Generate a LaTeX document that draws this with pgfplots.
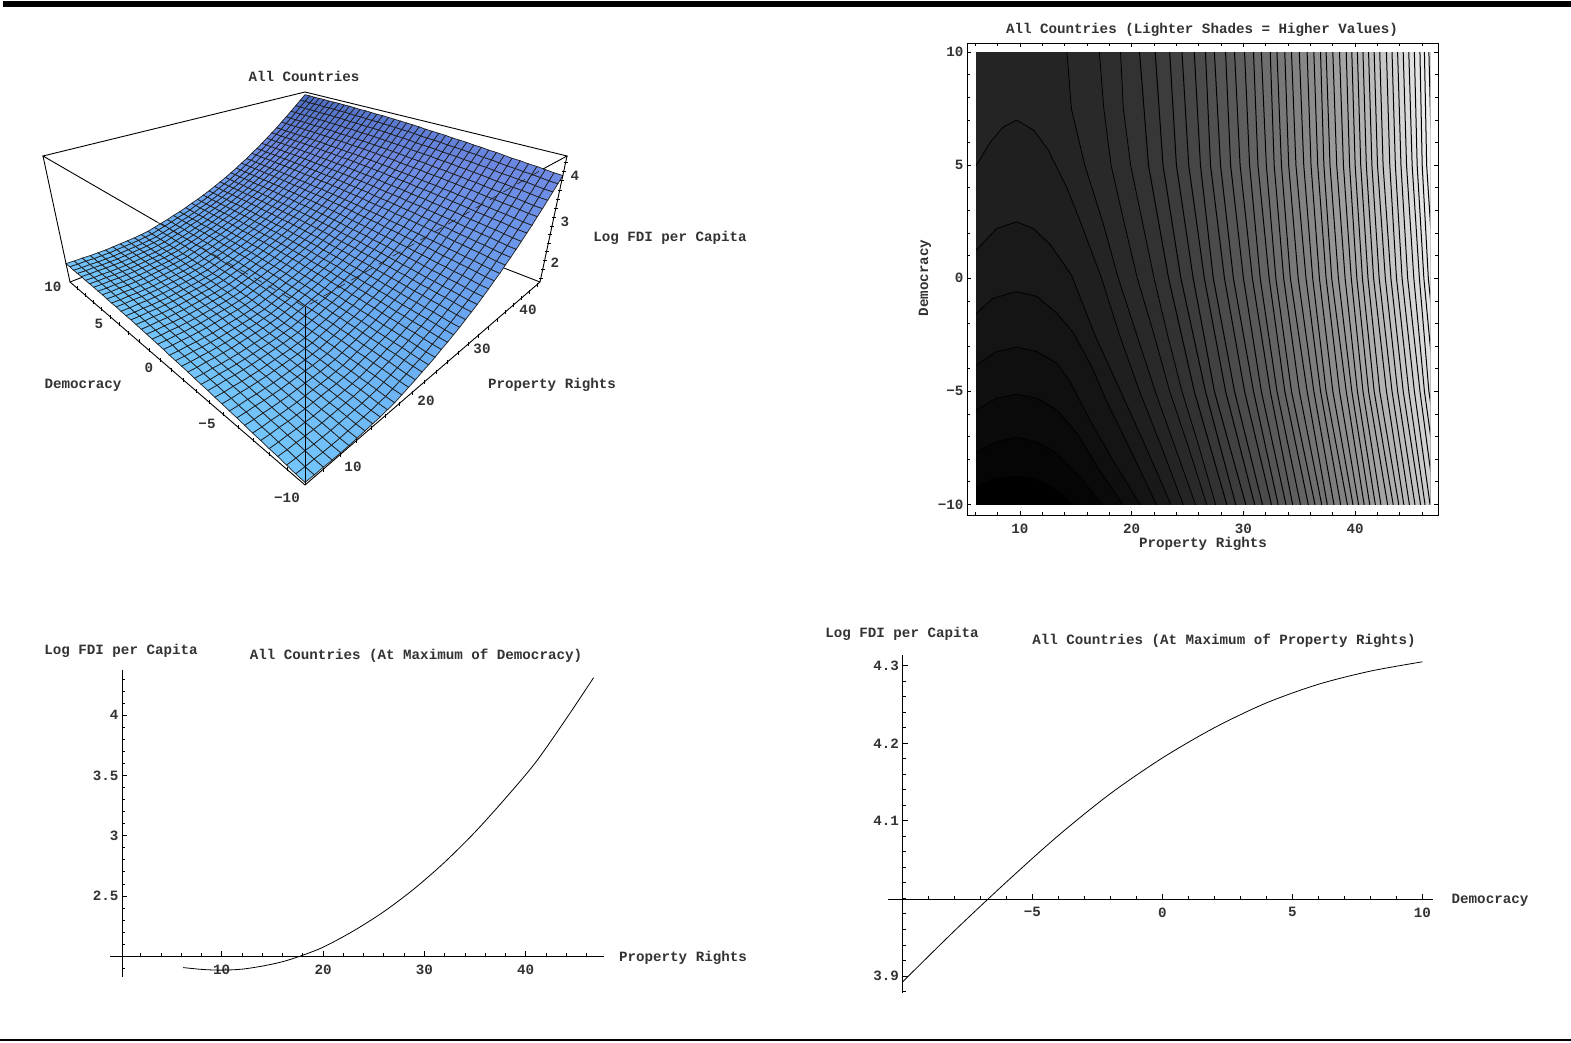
\documentclass[border=0pt]{standalone}
\usepackage{fontspec}
\usepackage{pgfplots}
\pgfplotsset{compat=1.18}
\setmainfont{Liberation Mono}
\newcommand\mf{\fontsize{14.2}{16}\selectfont\bfseries}
\definecolor{tx}{gray}{0.2}
\newcommand\C[6]{\addplot[fill=black!#1,draw=black,line width=1pt] coordinates {(#2,11)(#2,10)(#3,5)(#4,0)(#5,-5)(#6,-10)(#6,-11)(60,-11)(60,11)} --cycle;}
\pgfplotsset{
  common/.style={scale only axis,clip=false,/pgf/number format/assume math mode=true,
    tick label style={font=\mf,text=tx},xticklabel style={yshift=-5pt},axis line style={-,line width=.9pt,black},
    tick style={black,line width=.8pt},major tick length=5pt,minor tick length=3pt,tick align=inside},
}
\begin{document}
\begin{tikzpicture}
\path[use as bounding box,fill=white] (0,0) rectangle (1571pt,1042pt);
\begin{axis}[at={(0pt,0pt)},anchor=south west,scale only axis,width=1571pt,height=1042pt,
  xmin=0,xmax=1571,ymin=0,ymax=1042,y dir=reverse,hide axis,clip=false,
  nodes={font=\mf,text=tx},
  colormap={fdi}{rgb255(0)=(115,197,250) rgb255(5)=(105,170,242) rgb255(10)=(110,138,228) rgb255(13)=(75,108,195)},
  point meta min=0,point meta max=1.3,
  declare function={vv(\i)=floor((\i+0.5)/41)/40; uu(\i)=(\i-41*floor((\i+0.5)/41))/40; ww(\z)=(\z-1.45)/2.85; dd(\i,\z)=1+0.612*(uu(\i)+vv(\i))-0.166*ww(\z);}]
\addplot[black,line width=6pt] coordinates {(3,4)(1571,4)};
\addplot[black,line width=2.5pt] coordinates {(0,1040)(1571,1040)};
\addplot[black,line width=.9pt] coordinates {(70,282)(305,191)(540,282)};
\addplot[surf,shader=faceted,faceted color=black!88,line width=.7pt,mesh/cols=41,mesh/ordering=x varies,
  point meta={uu(\coordindex)+0.3*uu(\coordindex)*vv(\coordindex)}]
 table[row sep=crcr,header=false,
  x expr={305+379*(uu(\coordindex)-vv(\coordindex))/dd(\coordindex,\thisrowno{0})},
  y expr={485-(327*(uu(\coordindex)+vv(\coordindex))+148.5*ww(\thisrowno{0}))/dd(\coordindex,\thisrowno{0})}] {
1.50\\1.49\\1.49\\1.48\\1.48\\1.48\\1.49\\1.50\\1.51\\1.52\\1.54\\1.56\\1.60\\1.64\\1.68\\1.73\\1.77\\1.82\\1.88\\1.93\\1.99\\2.05\\2.12\\2.19\\2.26\\2.34\\2.42\\2.51\\2.59\\2.69\\2.78\\2.88\\2.98\\3.09\\3.19\\3.31\\3.42\\3.54\\3.66\\3.78\\3.90\\
1.51\\1.50\\1.50\\1.49\\1.49\\1.49\\1.50\\1.51\\1.52\\1.53\\1.55\\1.57\\1.61\\1.65\\1.69\\1.74\\1.78\\1.83\\1.89\\1.94\\2.00\\2.06\\2.13\\2.20\\2.27\\2.35\\2.43\\2.52\\2.60\\2.70\\2.79\\2.89\\2.99\\3.10\\3.20\\3.32\\3.43\\3.55\\3.67\\3.79\\3.91\\
1.53\\1.52\\1.52\\1.51\\1.51\\1.51\\1.52\\1.53\\1.54\\1.55\\1.57\\1.59\\1.63\\1.67\\1.71\\1.76\\1.80\\1.85\\1.91\\1.96\\2.02\\2.08\\2.15\\2.22\\2.29\\2.37\\2.45\\2.54\\2.62\\2.72\\2.81\\2.91\\3.01\\3.12\\3.22\\3.34\\3.45\\3.57\\3.69\\3.81\\3.93\\
1.55\\1.54\\1.54\\1.53\\1.53\\1.53\\1.54\\1.55\\1.56\\1.57\\1.59\\1.61\\1.65\\1.69\\1.73\\1.78\\1.82\\1.87\\1.93\\1.98\\2.04\\2.10\\2.17\\2.24\\2.31\\2.39\\2.47\\2.56\\2.64\\2.74\\2.83\\2.93\\3.03\\3.14\\3.24\\3.36\\3.47\\3.59\\3.71\\3.83\\3.95\\
1.56\\1.55\\1.55\\1.54\\1.54\\1.54\\1.55\\1.56\\1.57\\1.58\\1.60\\1.62\\1.66\\1.70\\1.74\\1.79\\1.83\\1.88\\1.94\\1.99\\2.05\\2.11\\2.18\\2.25\\2.32\\2.40\\2.48\\2.57\\2.65\\2.75\\2.84\\2.94\\3.04\\3.15\\3.25\\3.37\\3.48\\3.60\\3.72\\3.84\\3.96\\
1.58\\1.57\\1.57\\1.56\\1.56\\1.56\\1.57\\1.58\\1.59\\1.60\\1.62\\1.64\\1.68\\1.72\\1.76\\1.81\\1.85\\1.90\\1.96\\2.01\\2.07\\2.13\\2.20\\2.27\\2.34\\2.42\\2.50\\2.59\\2.67\\2.77\\2.86\\2.96\\3.06\\3.17\\3.27\\3.39\\3.50\\3.62\\3.74\\3.86\\3.98\\
1.59\\1.58\\1.58\\1.57\\1.57\\1.57\\1.58\\1.59\\1.60\\1.61\\1.63\\1.65\\1.69\\1.73\\1.77\\1.82\\1.86\\1.91\\1.97\\2.02\\2.08\\2.14\\2.21\\2.28\\2.35\\2.43\\2.51\\2.60\\2.68\\2.78\\2.87\\2.97\\3.07\\3.18\\3.28\\3.40\\3.51\\3.63\\3.75\\3.87\\3.99\\
1.61\\1.60\\1.60\\1.59\\1.59\\1.59\\1.60\\1.61\\1.62\\1.63\\1.65\\1.67\\1.71\\1.75\\1.79\\1.84\\1.88\\1.93\\1.99\\2.04\\2.10\\2.16\\2.23\\2.30\\2.37\\2.45\\2.53\\2.62\\2.70\\2.80\\2.89\\2.99\\3.09\\3.20\\3.30\\3.42\\3.53\\3.65\\3.77\\3.89\\4.01\\
1.63\\1.62\\1.62\\1.61\\1.61\\1.61\\1.62\\1.63\\1.64\\1.65\\1.67\\1.69\\1.73\\1.77\\1.81\\1.86\\1.90\\1.95\\2.01\\2.06\\2.12\\2.18\\2.25\\2.32\\2.39\\2.47\\2.55\\2.64\\2.72\\2.82\\2.91\\3.01\\3.11\\3.22\\3.32\\3.44\\3.55\\3.67\\3.79\\3.91\\4.03\\
1.64\\1.63\\1.63\\1.62\\1.62\\1.62\\1.63\\1.64\\1.65\\1.66\\1.68\\1.70\\1.74\\1.78\\1.82\\1.87\\1.91\\1.96\\2.02\\2.07\\2.13\\2.19\\2.26\\2.33\\2.40\\2.48\\2.56\\2.65\\2.73\\2.83\\2.92\\3.02\\3.12\\3.23\\3.33\\3.45\\3.56\\3.68\\3.80\\3.92\\4.04\\
1.66\\1.65\\1.65\\1.64\\1.64\\1.64\\1.65\\1.66\\1.67\\1.68\\1.70\\1.72\\1.76\\1.80\\1.84\\1.89\\1.93\\1.98\\2.04\\2.09\\2.15\\2.21\\2.28\\2.35\\2.42\\2.50\\2.58\\2.67\\2.75\\2.85\\2.94\\3.04\\3.14\\3.25\\3.35\\3.47\\3.58\\3.70\\3.82\\3.94\\4.06\\
1.67\\1.66\\1.66\\1.65\\1.65\\1.65\\1.66\\1.67\\1.68\\1.69\\1.71\\1.73\\1.77\\1.81\\1.85\\1.90\\1.94\\1.99\\2.05\\2.10\\2.16\\2.22\\2.29\\2.36\\2.43\\2.51\\2.59\\2.68\\2.76\\2.86\\2.95\\3.05\\3.15\\3.26\\3.36\\3.48\\3.59\\3.71\\3.83\\3.95\\4.07\\
1.69\\1.68\\1.68\\1.67\\1.67\\1.67\\1.68\\1.69\\1.70\\1.71\\1.73\\1.75\\1.79\\1.83\\1.87\\1.92\\1.96\\2.01\\2.07\\2.12\\2.18\\2.24\\2.31\\2.38\\2.45\\2.53\\2.61\\2.70\\2.78\\2.88\\2.97\\3.07\\3.17\\3.28\\3.38\\3.50\\3.61\\3.73\\3.85\\3.97\\4.09\\
1.70\\1.69\\1.69\\1.68\\1.68\\1.68\\1.69\\1.70\\1.71\\1.72\\1.74\\1.76\\1.80\\1.84\\1.88\\1.93\\1.97\\2.02\\2.08\\2.13\\2.19\\2.25\\2.32\\2.39\\2.46\\2.54\\2.62\\2.71\\2.79\\2.89\\2.98\\3.08\\3.18\\3.29\\3.39\\3.51\\3.62\\3.74\\3.86\\3.98\\4.10\\
1.71\\1.70\\1.70\\1.69\\1.69\\1.69\\1.70\\1.71\\1.72\\1.73\\1.75\\1.77\\1.81\\1.85\\1.89\\1.94\\1.98\\2.03\\2.09\\2.14\\2.20\\2.26\\2.33\\2.40\\2.47\\2.55\\2.63\\2.72\\2.80\\2.90\\2.99\\3.09\\3.19\\3.30\\3.40\\3.52\\3.63\\3.75\\3.87\\3.99\\4.11\\
1.73\\1.72\\1.72\\1.71\\1.71\\1.71\\1.72\\1.73\\1.74\\1.75\\1.77\\1.79\\1.83\\1.87\\1.91\\1.96\\2.00\\2.05\\2.11\\2.16\\2.22\\2.28\\2.35\\2.42\\2.49\\2.57\\2.65\\2.74\\2.82\\2.92\\3.01\\3.11\\3.21\\3.32\\3.42\\3.54\\3.65\\3.77\\3.89\\4.01\\4.13\\
1.74\\1.73\\1.73\\1.72\\1.72\\1.72\\1.73\\1.74\\1.75\\1.76\\1.78\\1.80\\1.84\\1.88\\1.92\\1.97\\2.01\\2.06\\2.12\\2.17\\2.23\\2.29\\2.36\\2.43\\2.50\\2.58\\2.66\\2.75\\2.83\\2.93\\3.02\\3.12\\3.22\\3.33\\3.43\\3.55\\3.66\\3.78\\3.90\\4.02\\4.14\\
1.75\\1.74\\1.74\\1.73\\1.73\\1.73\\1.74\\1.75\\1.76\\1.77\\1.79\\1.81\\1.85\\1.89\\1.93\\1.98\\2.02\\2.07\\2.13\\2.18\\2.24\\2.30\\2.37\\2.44\\2.51\\2.59\\2.67\\2.76\\2.84\\2.94\\3.03\\3.13\\3.23\\3.34\\3.44\\3.56\\3.67\\3.79\\3.91\\4.03\\4.15\\
1.76\\1.75\\1.75\\1.74\\1.74\\1.74\\1.75\\1.76\\1.77\\1.78\\1.80\\1.82\\1.86\\1.90\\1.94\\1.99\\2.03\\2.08\\2.14\\2.19\\2.25\\2.31\\2.38\\2.45\\2.52\\2.60\\2.68\\2.77\\2.85\\2.95\\3.04\\3.14\\3.24\\3.35\\3.45\\3.57\\3.68\\3.80\\3.92\\4.04\\4.16\\
1.78\\1.77\\1.77\\1.76\\1.76\\1.76\\1.77\\1.78\\1.79\\1.80\\1.82\\1.84\\1.88\\1.92\\1.96\\2.01\\2.05\\2.10\\2.16\\2.21\\2.27\\2.33\\2.40\\2.47\\2.54\\2.62\\2.70\\2.79\\2.87\\2.97\\3.06\\3.16\\3.26\\3.37\\3.47\\3.59\\3.70\\3.82\\3.94\\4.06\\4.18\\
1.79\\1.78\\1.78\\1.77\\1.77\\1.77\\1.78\\1.79\\1.80\\1.81\\1.83\\1.85\\1.89\\1.93\\1.97\\2.02\\2.06\\2.11\\2.17\\2.22\\2.28\\2.34\\2.41\\2.48\\2.55\\2.63\\2.71\\2.80\\2.88\\2.98\\3.07\\3.17\\3.27\\3.38\\3.48\\3.60\\3.71\\3.83\\3.95\\4.07\\4.19\\
1.80\\1.79\\1.79\\1.78\\1.78\\1.78\\1.79\\1.80\\1.81\\1.82\\1.84\\1.86\\1.90\\1.94\\1.98\\2.03\\2.07\\2.12\\2.18\\2.23\\2.29\\2.35\\2.42\\2.49\\2.56\\2.64\\2.72\\2.81\\2.89\\2.99\\3.08\\3.18\\3.28\\3.39\\3.49\\3.61\\3.72\\3.84\\3.96\\4.08\\4.20\\
1.81\\1.80\\1.80\\1.79\\1.79\\1.79\\1.80\\1.81\\1.82\\1.83\\1.85\\1.87\\1.91\\1.95\\1.99\\2.04\\2.08\\2.13\\2.19\\2.24\\2.30\\2.36\\2.43\\2.50\\2.57\\2.65\\2.73\\2.82\\2.90\\3.00\\3.09\\3.19\\3.29\\3.40\\3.50\\3.62\\3.73\\3.85\\3.97\\4.09\\4.21\\
1.82\\1.81\\1.81\\1.80\\1.80\\1.80\\1.81\\1.82\\1.83\\1.84\\1.86\\1.88\\1.92\\1.96\\2.00\\2.05\\2.09\\2.14\\2.20\\2.25\\2.31\\2.37\\2.44\\2.51\\2.58\\2.66\\2.74\\2.83\\2.91\\3.01\\3.10\\3.20\\3.30\\3.41\\3.51\\3.63\\3.74\\3.86\\3.98\\4.10\\4.22\\
1.83\\1.82\\1.82\\1.81\\1.81\\1.81\\1.82\\1.83\\1.84\\1.85\\1.87\\1.89\\1.93\\1.97\\2.01\\2.06\\2.10\\2.15\\2.21\\2.26\\2.32\\2.38\\2.45\\2.52\\2.59\\2.67\\2.75\\2.84\\2.92\\3.02\\3.11\\3.21\\3.31\\3.42\\3.52\\3.64\\3.75\\3.87\\3.99\\4.11\\4.23\\
1.84\\1.83\\1.83\\1.82\\1.82\\1.82\\1.83\\1.84\\1.85\\1.86\\1.88\\1.90\\1.94\\1.98\\2.02\\2.07\\2.11\\2.16\\2.22\\2.27\\2.33\\2.39\\2.46\\2.53\\2.60\\2.68\\2.76\\2.85\\2.93\\3.03\\3.12\\3.22\\3.32\\3.43\\3.53\\3.65\\3.76\\3.88\\4.00\\4.12\\4.24\\
1.84\\1.83\\1.83\\1.82\\1.82\\1.82\\1.83\\1.84\\1.85\\1.86\\1.88\\1.90\\1.94\\1.98\\2.02\\2.07\\2.11\\2.16\\2.22\\2.27\\2.33\\2.39\\2.46\\2.53\\2.60\\2.68\\2.76\\2.85\\2.93\\3.03\\3.12\\3.22\\3.32\\3.43\\3.53\\3.65\\3.76\\3.88\\4.00\\4.12\\4.24\\
1.85\\1.84\\1.84\\1.83\\1.83\\1.83\\1.84\\1.85\\1.86\\1.87\\1.89\\1.91\\1.95\\1.99\\2.03\\2.08\\2.12\\2.17\\2.23\\2.28\\2.34\\2.40\\2.47\\2.54\\2.61\\2.69\\2.77\\2.86\\2.94\\3.04\\3.13\\3.23\\3.33\\3.44\\3.54\\3.66\\3.77\\3.89\\4.01\\4.13\\4.25\\
1.86\\1.85\\1.85\\1.84\\1.84\\1.84\\1.85\\1.86\\1.87\\1.88\\1.90\\1.92\\1.96\\2.00\\2.04\\2.09\\2.13\\2.18\\2.24\\2.29\\2.35\\2.41\\2.48\\2.55\\2.62\\2.70\\2.78\\2.87\\2.95\\3.05\\3.14\\3.24\\3.34\\3.45\\3.55\\3.67\\3.78\\3.90\\4.02\\4.14\\4.26\\
1.86\\1.85\\1.85\\1.84\\1.84\\1.84\\1.85\\1.86\\1.87\\1.88\\1.90\\1.92\\1.96\\2.00\\2.04\\2.09\\2.13\\2.18\\2.24\\2.29\\2.35\\2.41\\2.48\\2.55\\2.62\\2.70\\2.78\\2.87\\2.95\\3.05\\3.14\\3.24\\3.34\\3.45\\3.55\\3.67\\3.78\\3.90\\4.02\\4.14\\4.26\\
1.87\\1.86\\1.86\\1.85\\1.85\\1.85\\1.86\\1.87\\1.88\\1.89\\1.91\\1.93\\1.97\\2.01\\2.05\\2.10\\2.14\\2.19\\2.25\\2.30\\2.36\\2.42\\2.49\\2.56\\2.63\\2.71\\2.79\\2.88\\2.96\\3.06\\3.15\\3.25\\3.35\\3.46\\3.56\\3.68\\3.79\\3.91\\4.03\\4.15\\4.27\\
1.88\\1.87\\1.87\\1.86\\1.86\\1.86\\1.87\\1.88\\1.89\\1.90\\1.92\\1.94\\1.98\\2.02\\2.06\\2.11\\2.15\\2.20\\2.26\\2.31\\2.37\\2.43\\2.50\\2.57\\2.64\\2.72\\2.80\\2.89\\2.97\\3.07\\3.16\\3.26\\3.36\\3.47\\3.57\\3.69\\3.80\\3.92\\4.04\\4.16\\4.28\\
1.88\\1.87\\1.87\\1.86\\1.86\\1.86\\1.87\\1.88\\1.89\\1.90\\1.92\\1.94\\1.98\\2.02\\2.06\\2.11\\2.15\\2.20\\2.26\\2.31\\2.37\\2.43\\2.50\\2.57\\2.64\\2.72\\2.80\\2.89\\2.97\\3.07\\3.16\\3.26\\3.36\\3.47\\3.57\\3.69\\3.80\\3.92\\4.04\\4.16\\4.28\\
1.89\\1.88\\1.88\\1.87\\1.87\\1.87\\1.88\\1.89\\1.90\\1.91\\1.93\\1.95\\1.99\\2.03\\2.07\\2.12\\2.16\\2.21\\2.27\\2.32\\2.38\\2.44\\2.51\\2.58\\2.65\\2.73\\2.81\\2.90\\2.98\\3.08\\3.17\\3.27\\3.37\\3.48\\3.58\\3.70\\3.81\\3.93\\4.05\\4.17\\4.29\\
1.89\\1.88\\1.88\\1.87\\1.87\\1.87\\1.88\\1.89\\1.90\\1.91\\1.93\\1.95\\1.99\\2.03\\2.07\\2.12\\2.16\\2.21\\2.27\\2.32\\2.38\\2.44\\2.51\\2.58\\2.65\\2.73\\2.81\\2.90\\2.98\\3.08\\3.17\\3.27\\3.37\\3.48\\3.58\\3.70\\3.81\\3.93\\4.05\\4.17\\4.29\\
1.89\\1.88\\1.88\\1.87\\1.87\\1.87\\1.88\\1.89\\1.90\\1.91\\1.93\\1.95\\1.99\\2.03\\2.07\\2.12\\2.16\\2.21\\2.27\\2.32\\2.38\\2.44\\2.51\\2.58\\2.65\\2.73\\2.81\\2.90\\2.98\\3.08\\3.17\\3.27\\3.37\\3.48\\3.58\\3.70\\3.81\\3.93\\4.05\\4.17\\4.29\\
1.90\\1.89\\1.89\\1.88\\1.88\\1.88\\1.89\\1.90\\1.91\\1.92\\1.94\\1.96\\2.00\\2.04\\2.08\\2.13\\2.17\\2.22\\2.28\\2.33\\2.39\\2.45\\2.52\\2.59\\2.66\\2.74\\2.82\\2.91\\2.99\\3.09\\3.18\\3.28\\3.38\\3.49\\3.59\\3.71\\3.82\\3.94\\4.06\\4.18\\4.30\\
1.90\\1.89\\1.89\\1.88\\1.88\\1.88\\1.89\\1.90\\1.91\\1.92\\1.94\\1.96\\2.00\\2.04\\2.08\\2.13\\2.17\\2.22\\2.28\\2.33\\2.39\\2.45\\2.52\\2.59\\2.66\\2.74\\2.82\\2.91\\2.99\\3.09\\3.18\\3.28\\3.38\\3.49\\3.59\\3.71\\3.82\\3.94\\4.06\\4.18\\4.30\\
1.90\\1.89\\1.89\\1.88\\1.88\\1.88\\1.89\\1.90\\1.91\\1.92\\1.94\\1.96\\2.00\\2.04\\2.08\\2.13\\2.17\\2.22\\2.28\\2.33\\2.39\\2.45\\2.52\\2.59\\2.66\\2.74\\2.82\\2.91\\2.99\\3.09\\3.18\\3.28\\3.38\\3.49\\3.59\\3.71\\3.82\\3.94\\4.06\\4.18\\4.30\\
1.91\\1.90\\1.90\\1.89\\1.89\\1.89\\1.90\\1.91\\1.92\\1.93\\1.95\\1.97\\2.01\\2.05\\2.09\\2.14\\2.18\\2.23\\2.29\\2.34\\2.40\\2.46\\2.53\\2.60\\2.67\\2.75\\2.83\\2.92\\3.00\\3.10\\3.19\\3.29\\3.39\\3.50\\3.60\\3.72\\3.83\\3.95\\4.07\\4.19\\4.31\\
1.91\\1.90\\1.90\\1.89\\1.89\\1.89\\1.90\\1.91\\1.92\\1.93\\1.95\\1.97\\2.01\\2.05\\2.09\\2.14\\2.18\\2.23\\2.29\\2.34\\2.40\\2.46\\2.53\\2.60\\2.67\\2.75\\2.83\\2.92\\3.00\\3.10\\3.19\\3.29\\3.39\\3.50\\3.60\\3.72\\3.83\\3.95\\4.07\\4.19\\4.31\\
};
\addplot[black,line width=.9pt] coordinates {(157,222)(43,156)(305,92)(567,156)(543,169)};
\addplot[black!85,line width=.7pt,dash pattern=on 9pt off 7pt] coordinates {(157,222)(305,307)(543,169)};
\addplot[black,line width=.9pt] coordinates {(305,307)(305,485)};
\addplot[black,line width=.9pt] coordinates {(43,156)(70,282)(305,485)(540,282)(567,156)};
\addplot[only marks,mark=|,mark size=2pt,mark options={black,line width=.6pt}] coordinates {(323,470)(340,455)(356,441)(371,428)(385,416)(399,404)(412,393)(424,382)(436,372)(447,362)(458,353)(468,344)(478,336)(488,328)(497,320)(505,312)(513,305)(521,298)(529,292)(537,285)};
\addplot[only marks,mark=|,mark size=2pt,mark options={black,line width=.6pt}] coordinates {(287,469)(269,454)(253,440)(238,427)(223,414)(209,402)(196,391)(183,380)(171,370)(160,360)(149,350)(139,341)(128,333)(119,324)(110,317)(101,309)(93,302)(85,295)(77,288)};
\addplot[only marks,mark=-,mark size=2pt,mark options={black,line width=.6pt}] coordinates {(541,278)(543,269)(545,260)(547,251)(549,243)(550,234)(552,226)(554,217)(556,208)(558,199)(560,190)(562,180)(564,171)(566,162)};
\node at (axis cs:304,76) {All Countries};
\node at (axis cs:670,238) {Log FDI per Capita};
\node at (axis cs:83,385) {Democracy};
\node at (axis cs:552,385) {Property Rights};
\node at (axis cs:575,176) {4};\node at (axis cs:565,222) {3};\node at (axis cs:555,263) {2};
\node at (axis cs:528,310) {40};\node at (axis cs:482,349) {30};\node at (axis cs:426,401) {20};\node at (axis cs:353,467) {10};
\node at (axis cs:287,498) {−10};\node at (axis cs:207,424) {−5};\node at (axis cs:149,368) {0};\node at (axis cs:99,324) {5};\node at (axis cs:53,287) {10};
\node at (axis cs:1202,30) {All Countries (Lighter Shades = Higher Values)};
\node at (axis cs:1203,544) {Property Rights};
\node[rotate=90] at (axis cs:925,278) {Democracy};
\node at (axis cs:121,651) {Log FDI per Capita};
\node at (axis cs:416,656) {All Countries (At Maximum of Democracy)};
\node at (axis cs:683,958) {Property Rights};
\node at (axis cs:902,634) {Log FDI per Capita};
\node at (axis cs:1224,641) {All Countries (At Maximum of Property Rights)};
\node at (axis cs:1490,900) {Democracy};
\end{axis}
\begin{axis}[at={(976pt,537.7pt)},anchor=south west,scale only axis,width=454pt,height=452pt,
  xmin=6.06,xmax=46.7,ymin=-10,ymax=10,hide axis,clip=true]
\addplot[fill=black,draw=none] coordinates {(5,-11)(60,-11)(60,11)(5,11)} --cycle;
\addplot[fill=black!98,draw=black,line width=.8pt] coordinates {(5,-9.6)(6.1,-9.2)(7.9,-8.85)(9.7,-8.75)(11.5,-8.9)(13.3,-9.37)(14.7,-10)(15,-11)(60,-11)(60,11)(5,11)} --cycle;
\addplot[fill=black!96,draw=black,line width=.8pt] coordinates {(5,-8.1)(6.1,-7.67)(7.9,-7.23)(9.7,-7.03)(11.5,-7.23)(13.3,-7.74)(15.4,-8.78)(17.3,-10)(18,-11)(60,-11)(60,11)(5,11)} --cycle;
\addplot[fill=black!94,draw=black,line width=.8pt] coordinates {(5,-6.3)(6.1,-5.83)(7.9,-5.3)(9.7,-5.13)(11.5,-5.3)(13.3,-5.83)(15.1,-6.86)(16.9,-8.33)(19.2,-10)(20,-11)(60,-11)(60,11)(5,11)} --cycle;
\addplot[fill=black!92,draw=black,line width=.8pt] coordinates {(5,-4.3)(6.1,-3.83)(7.9,-3.24)(9.7,-3.05)(11.5,-3.24)(13.3,-3.76)(14.5,-4.6)(16.5,-6.5)(18.5,-8.2)(20.75,-10)(21.5,-11)(60,-11)(60,11)(5,11)} --cycle;
\addplot[fill=black!90,draw=black,line width=.8pt] coordinates {(5,-2)(6.1,-1.55)(7.6,-.88)(9.7,-.59)(11.5,-.8)(13.3,-1.55)(14.8,-2.43)(16.5,-4)(17.8,-5.5)(19.8,-7.5)(22.2,-10)(23,-11)(60,-11)(60,11)(5,11)} --cycle;
\addplot[fill=black!88,draw=black,line width=.8pt] coordinates {(5,.7)(6.1,1.25)(7.9,2.2)(9.7,2.5)(11.2,2.2)(12.7,1.5)(14.6,.15)(16.7,-2.5)(19,-5)(21.3,-7.5)(23.5,-10)(24.2,-11)(60,-11)(60,11)(5,11)} --cycle;
\addplot[fill=black!86,draw=black,line width=.8pt] coordinates {(5,4.2)(6.1,5)(7.3,6)(8.5,6.7)(9.7,7)(11.2,6.56)(12.5,5.7)(14.2,4)(15.4,2.5)(17.3,0)(18.9,-2.5)(20.7,-5)(22.7,-7.5)(24.6,-10)(25.2,-11)(60,-11)(60,11)(5,11)} --cycle;
\addplot[fill=black!84,draw=black,line width=.8pt] coordinates {(14.2,11)(14.2,10)(14.6,7.5)(15.8,5)(17.4,2.5)(18.8,0)(20.45,-2.5)(22.1,-5)(23.9,-7.5)(25.7,-10)(26,-11)(60,-11)(60,11)} --cycle;
\addplot[fill=black!82.5,draw=black,line width=.8pt] coordinates {(17.1,11)(17.1,10)(17.5,7.5)(18.15,5)(19.3,2.5)(20.5,0)(22,-2.5)(23.4,-5)(25.1,-7.5)(26.7,-10)(27,-11)(60,-11)(60,11)} --cycle;
\addplot[fill=black!80.5,draw=black,line width=.8pt] coordinates {(19,11)(19,10)(19.25,7.5)(19.9,5)(20.95,2.5)(22,0)(23.2,-2.5)(24.5,-5)(26.05,-7.5)(27.5,-10)(28,-11)(60,-11)(60,11)} --cycle;
\C{78.5}{20.7}{21.5}{23.3}{25.6}{28.5}
\C{76.5}{22.1}{22.8}{24.4}{26.6}{29.3}
\C{74.5}{23.4}{24.0}{25.5}{27.4}{30.2}
\C{72.7}{24.5}{25.1}{26.5}{28.4}{31.0}
\C{70.7}{25.6}{26.15}{27.3}{29.2}{31.7}
\C{68.8}{26.6}{27.05}{28.3}{30.1}{32.5}
\C{66.8}{27.4}{27.95}{29.1}{30.9}{33.1}
\C{65}{28.4}{28.85}{30.0}{31.6}{33.8}
\C{63}{29.2}{29.7}{30.8}{32.4}{34.4}
\C{61}{30.1}{30.55}{31.5}{33.0}{35.1}
\C{59}{30.9}{31.3}{32.3}{33.7}{35.8}
\C{57}{31.6}{32.05}{32.9}{34.3}{36.4}
\C{55}{32.4}{32.75}{33.6}{35.0}{37.0}
\C{53}{33.0}{33.4}{34.2}{35.7}{37.5}
\C{51}{33.7}{34.05}{34.9}{36.3}{38.1}
\C{49}{34.3}{34.7}{35.6}{36.9}{38.7}
\C{47}{35.0}{35.4}{36.2}{37.4}{39.3}
\C{45}{35.7}{36.05}{36.8}{38.0}{39.8}
\C{43.5}{36.3}{36.65}{37.4}{38.6}{40.3}
\C{41.5}{36.9}{37.2}{37.9}{39.2}{40.8}
\C{39.5}{37.4}{37.75}{38.5}{39.7}{41.3}
\C{37.6}{38.0}{38.35}{39.1}{40.2}{41.8}
\C{35.6}{38.6}{38.95}{39.65}{40.7}{42.3}
\C{33.7}{39.2}{39.5}{40.15}{41.2}{42.9}
\C{31.7}{39.7}{40.0}{40.65}{41.7}{43.4}
\C{29.8}{40.2}{40.5}{41.15}{42.2}{43.9}
\C{27.8}{40.7}{41.0}{41.65}{42.8}{44.35}
\C{26}{41.2}{41.5}{42.15}{43.3}{44.85}
\C{24}{41.7}{42.0}{42.7}{43.8}{45.35}
\C{22}{42.2}{42.5}{43.2}{44.3}{45.85}
\C{20}{42.8}{43.1}{43.7}{44.8}{46.25}
\C{18}{43.3}{43.6}{44.2}{45.3}{46.7}
\C{16}{43.8}{44.1}{44.7}{45.8}{47.15}
\C{14}{44.3}{44.6}{45.25}{46.2}{47.6}
\C{12}{44.8}{45.1}{45.75}{46.6}{48.05}
\C{10}{45.3}{45.55}{46.15}{47.1}{48.5}
\C{8.3}{45.8}{46.0}{46.55}{47.55}{48.95}
\C{6.4}{46.2}{46.4}{47.05}{48}{49.4}
\C{4.5}{46.6}{46.85}{47.5}{48.45}{49.85}
\end{axis}
\begin{axis}[common,at={(967pt,527pt)},anchor=south west,width=471pt,height=472pt,
  xmin=5.26,xmax=47.42,ymin=-10.47,ymax=10.41,
  xtick={10,20,30,40},minor xtick={6,8,12,14,16,18,22,24,26,28,32,34,36,38,42,44,46},
  ytick={-10,-5,0,5,10},yticklabels={−10,−5,0,5,10},minor ytick={-9,-8,-7,-6,-4,-3,-2,-1,1,2,3,4,6,7,8,9},
  major tick length=4pt,minor tick length=3pt]
\end{axis}
\begin{axis}[common,at={(110pt,65pt)},anchor=south west,width=494pt,height=307pt,
  xmin=-1.03,xmax=47.73,ymin=1.828,ymax=4.374,
  axis x line*=bottom,axis y line*=left,axis x line shift=-21pt,axis y line shift=-12pt,
  xtick={10,20,30,40},minor xtick={2,4,6,8,12,14,16,18,22,24,26,28,32,34,36,38,42,44,46},
  ytick={2.5,3,3.5,4},minor ytick={1.9,2,2.1,2.2,2.3,2.4,2.6,2.7,2.8,2.9,3.1,3.2,3.3,3.4,3.6,3.7,3.8,3.9,4.1,4.2,4.3}]
\addplot[black,line width=.8pt,smooth,no marks] coordinates {(6.2,1.906)(8.2,1.89)(10,1.885)(12,1.893)(14.1,1.92)(16,1.955)(17.7,2.0)(20,2.075)(23,2.21)(26,2.37)(29,2.56)(32,2.78)(35,3.03)(38,3.31)(41,3.61)(44,3.97)(46.7,4.31)};
\end{axis}
\begin{axis}[common,at={(888pt,49pt)},anchor=south west,width=545pt,height=338pt,
  xmin=-10.55,xmax=10.41,ymin=3.878,ymax=4.3138,
  axis x line*=bottom,axis y line*=left,axis x line shift=-94pt,axis y line shift=-14.5pt,
  xtick={-5,0,5,10},xticklabels={−5,0,5,10},minor xtick={-10,-9,-8,-7,-6,-4,-3,-2,-1,1,2,3,4,6,7,8,9},
  ytick={3.9,4.1,4.2,4.3},yticklabels={3.9,4.1,4.2,4.3},
  minor ytick={3.88,3.92,3.94,3.96,3.98,4,4.02,4.04,4.06,4.08,4.12,4.14,4.16,4.18,4.22,4.24,4.26,4.28}]
\addplot[black,line width=.8pt,smooth,no marks] coordinates {(-10,3.892)(-8,3.958)(-6,4.021)(-4,4.081)(-2,4.135)(0,4.181)(2,4.220)(4,4.252)(6,4.276)(8,4.293)(10,4.305)};
\end{axis}
\end{tikzpicture}
\end{document}
